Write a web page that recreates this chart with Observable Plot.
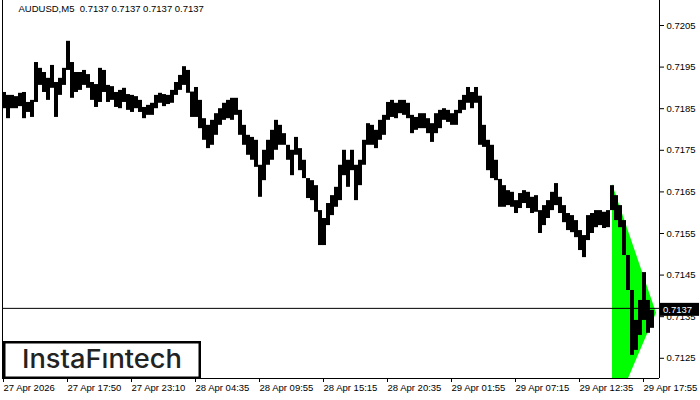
<!DOCTYPE html>
<html><head><meta charset="utf-8">
<script src="https://cdn.jsdelivr.net/npm/d3@7"></script>
<script src="https://cdn.jsdelivr.net/npm/@observablehq/plot@0.6"></script>
<style>
body{margin:0;background:#fff;}
#chart{width:700px;height:400px;}
svg text{white-space:pre;}
</style></head><body><div id="chart"></div>
<script>
// ---- data ----
const symbolTitle = "AUDUSD,M5  0.7137 0.7137 0.7137 0.7137";
const brand = "InstaFıntech";
const lastPrice = 0.7137;
const barsPerSample = 4; // each sample groups 4 five-minute bars
const highs = [
 .71889,.71882,.71882,.71879,.71887,.71889,.71865,.71870,.71961,.71947,
 .71937,.71923,.71954,.71913,.71923,.71947,.72012,.71961,.71937,.71937,
 .71942,.71932,.71913,.71908,.71947,.71942,.71906,.71903,.71889,.71894,
 .71899,.71884,.71882,.71879,.71870,.71853,.71858,.71863,.71882,.71887,
 .71884,.71882,.71894,.71913,.71930,.71951,.71942,.71890,.71901,.71870,
 .71826,.71810,.71822,.71838,.71850,.71863,.71870,.71875,.71875,.71846,
 .71810,.71786,.71781,.71774,.71714,.71750,.71774,.71798,.71822,.71810,
 .71790,.71762,.71750,.71781,.71754,.71726,.71682,.71677,.71665,.71605,
 .71586,.71622,.71641,.71661,.71714,.71750,.71726,.71750,.71714,.71726,
 .71774,.71814,.71810,.71798,.71822,.71834,.71865,.71870,.71863,.71870,
 .71870,.71863,.71834,.71829,.71838,.71838,.71826,.71814,.71838,.71846,
 .71850,.71846,.71838,.71846,.71870,.71882,.71901,.71889,.71901,.71880,
 .71810,.71774,.71762,.71726,.71680,.71665,.71653,.71649,.71629,.71646,
 .71653,.71649,.71637,.71641,.71605,.71617,.71629,.71649,.71670,.71637,
 .71617,.71598,.71593,.71581,.71557,.71545,.71593,.71598,.71605,.71605,
 .71601,.71605,.71665,.71641,.71617,.71581,.71497,.71413,.71341,.71389,
 .71456,.71389,.71365];
const lows = [
 .71850,.71826,.71850,.71850,.71855,.71826,.71841,.71829,.71865,.71906,
 .71889,.71870,.71899,.71829,.71882,.71906,.71942,.71875,.71889,.71894,
 .71906,.71899,.71870,.71853,.71865,.71889,.71865,.71870,.71853,.71850,
 .71865,.71846,.71841,.71850,.71841,.71826,.71834,.71834,.71850,.71863,
 .71855,.71860,.71863,.71882,.71894,.71906,.71887,.71829,.71829,.71802,
 .71774,.71754,.71762,.71786,.71810,.71822,.71826,.71822,.71834,.71786,
 .71762,.71738,.71726,.71709,.71637,.71677,.71714,.71726,.71750,.71762,
 .71762,.71726,.71689,.71738,.71701,.71682,.71634,.71629,.71601,.71521,
 .71521,.71569,.71593,.71613,.71629,.71689,.71661,.71701,.71629,.71665,
 .71714,.71762,.71762,.71754,.71774,.71786,.71822,.71829,.71826,.71838,
 .71834,.71826,.71790,.71798,.71802,.71802,.71790,.71769,.71790,.71802,
 .71822,.71817,.71810,.71810,.71838,.71846,.71863,.71850,.71863,.71762,
 .71757,.71701,.71682,.71677,.71613,.71613,.71617,.71613,.71598,.71610,
 .71622,.71610,.71598,.71601,.71550,.71569,.71586,.71605,.71617,.71598,
 .71576,.71557,.71552,.71540,.71509,.71492,.71533,.71550,.71564,.71569,
 .71562,.71564,.71605,.71581,.71564,.71497,.71413,.71257,.71269,.71305,
 .71341,.71310,.71322];
const tickBars = [1, 65, 129, 193, 257, 321, 385, 449, 513, 577, 641];
const tickLabels = ["27 Apr 2026","27 Apr 17:50","27 Apr 23:10","28 Apr 04:35","28 Apr 09:55",
  "28 Apr 15:15","28 Apr 20:35","29 Apr 01:55","29 Apr 07:15","29 Apr 12:35","29 Apr 17:55"];
const priceTicks = [0.7125,0.7135,0.7145,0.7155,0.7165,0.7175,0.7185,0.7195,0.7205];
const patternBars = [610, 654];
const patternTop = [0.71668, 0.71358];
const patternBottom = [0.71111, 0.71358];
const xDomain = [0, 657];
const yDomain = [0.712014, 0.721101];

// ---- build ----
const labelByBar = new Map(tickBars.map((b, i) => [b, tickLabels[i]]));
const samples = d3.range(highs.length);
const pattern = patternBars.map((b, i) => ({x: b, hi: patternTop[i], lo: patternBottom[i]}));
const font = "'Liberation Sans', Arial, sans-serif";

const chart = Plot.plot({
  width: 700, height: 400,
  marginLeft: 2, marginRight: 41, marginTop: 0, marginBottom: 22,
  style: {fontFamily: font, fontSize: "9.5px", background: "#fff", color: "#000"},
  x: {domain: xDomain, axis: null},
  y: {domain: yDomain, axis: null},
  marks: [
    Plot.areaY(pattern, {x: "x", y1: "lo", y2: "hi", fill: "#00ff00", clip: true}),
    Plot.ruleY([lastPrice], {stroke: "#000", strokeWidth: 1}),
    Plot.rect(samples, {
      x1: i => i * barsPerSample, x2: i => (i + 1) * barsPerSample,
      y1: i => lows[i], y2: i => highs[i], fill: "#000"
    }),
    Plot.ruleX(xDomain, {stroke: "#000"}),
    Plot.ruleY([yDomain[0]], {stroke: "#000"}),
    Plot.axisX(tickBars, {anchor: "bottom", tickSize: 4, tickPadding: 2, textAnchor: "start",
      tickFormat: d => labelByBar.get(d), fill: "#000", stroke: "#000", label: null}),
    Plot.axisY(priceTicks, {anchor: "right", tickSize: 4, tickPadding: 3,
      tickFormat: d => d.toFixed(4), fill: "#000", stroke: "#000", label: null}),
    Plot.text([symbolTitle], {frameAnchor: "top-left", dx: 16, dy: 5, textAnchor: "start",
      lineAnchor: "top", fill: "#000", fontSize: 9.5})
  ]
});
document.getElementById("chart").appendChild(chart);

// overlays: current price tag and brand box
const svg = d3.select(chart);
const ys = chart.scale("y").apply(lastPrice);
const tag = svg.append("g").attr("text-anchor", "start");
tag.append("rect").attr("x", 660).attr("y", ys - 5).attr("width", 39).attr("height", 13).attr("fill", "#000");
tag.append("text").attr("x", 663).attr("y", ys + 5).attr("fill", "#fff").attr("text-anchor", "start")
  .attr("font-family", font).attr("font-size", "9.5px").text(lastPrice.toFixed(4));

const logo = svg.append("g").attr("text-anchor", "start");
logo.append("rect").attr("x", 4.25).attr("y", 342.25).attr("width", 195.5).attr("height", 35.5)
  .attr("fill", "#fff").attr("stroke", "#000").attr("stroke-width", 2.5);
logo.append("text").attr("x", 22).attr("y", 368).attr("fill", "#222").attr("text-anchor", "start")
  .attr("font-family", "Inter, 'Open Sans', sans-serif").attr("font-weight", 500)
  .attr("font-size", "26px").attr("textLength", 160).attr("lengthAdjust", "spacingAndGlyphs")
  .text(brand);
</script></body></html>
